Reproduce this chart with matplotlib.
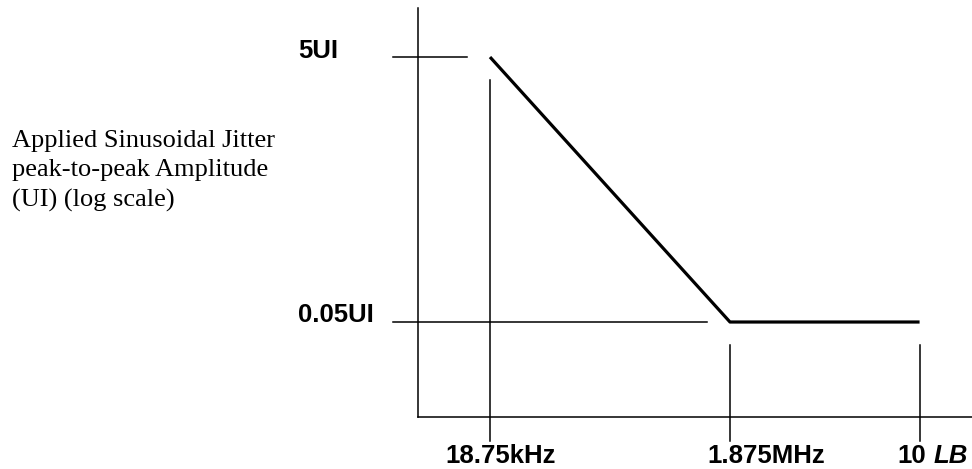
# -*- coding: utf-8 -*-
"""
Sinusoidal jitter tolerance mask (log-log sketch)
"""

# %% load libraries
# -----------------

import matplotlib
matplotlib.use('Agg')
import matplotlib.pyplot as plt


# %% data
# -------

# corner frequencies (Hz); the last one stands for "10 LB"
freq = [18.75e3, 1.875e6, 71.3e6]
# applied jitter amplitude (UI) at each corner
amp = [5, 0.05, 0.05]

amp_labels = ['5UI', '0.05UI']
freq_labels = ['18.75kHz', '1.875MHz']


# %% figure
# ---------

W, H = 972, 469
fig = plt.figure(figsize=(W / 100, H / 100), dpi=100)

# axes box in pixels (left spine at x=418, bottom spine at y=417)
ax = fig.add_axes([418 / W, (H - 417) / H, (W - 418) / W, (417 - 8) / H])
ax.set_xscale('log')
ax.set_yscale('log')
ax.set_xlim(10 ** 3.673, 10 ** 8.29)
ax.set_ylim(10 ** -2.018, 10 ** 1.069)

for s in ['top', 'right']:
    ax.spines[s].set_visible(False)
for s in ['left', 'bottom']:
    ax.spines[s].set_linewidth(1.1)
ax.set_xticks([])
ax.set_yticks([])
ax.minorticks_off()
ax.tick_params(which='both', length=0, labelleft=False, labelbottom=False)

# mask line
ax.plot(freq, amp, color='black', lw=2.3, solid_capstyle='butt', clip_on=False)

# reference lines (gaps in decades)
gx, gy = 0.19, 0.17
left = 10 ** -0.81
below = 10 ** -0.9
thin = dict(color='black', lw=1.1, clip_on=False)

ax.plot([freq[0] * left, freq[0] * 10 ** -0.19], [amp[0], amp[0]], **thin)
ax.plot([freq[0] * left, freq[1] * 10 ** -gx], [amp[1], amp[1]], **thin)
ax.plot([freq[0], freq[0]], [amp[0] * 10 ** -gy, amp[1] * below], **thin)
for f in freq[1:]:
    ax.plot([f, f], [amp[1] * 10 ** -gy, amp[1] * below], **thin)

# labels
bold = dict(family='Liberation Sans', weight='bold', fontsize=18.5,
            va='baseline', ha='left')
fig.text(298 / W, 1 - 58 / H, amp_labels[0], **bold)
fig.text(298 / W, 1 - 322 / H, amp_labels[1], **bold)
fig.text(445 / W, 1 - 463 / H, freq_labels[0], **bold)
fig.text(707 / W, 1 - 463 / H, freq_labels[1], **bold)
fig.text(897 / W, 1 - 463 / H, '10', **bold)
fig.text(934 / W, 1 - 463 / H, 'LB', style='italic', **bold)

fig.text(12 / W, 1 - 130 / H,
         'Applied Sinusoidal Jitter\npeak-to-peak Amplitude\n(UI) (log scale)',
         family='Liberation Serif', fontsize=19, va='top', ha='left',
         linespacing=1.43)

# save plot
plt.savefig('out.png', dpi=100)
